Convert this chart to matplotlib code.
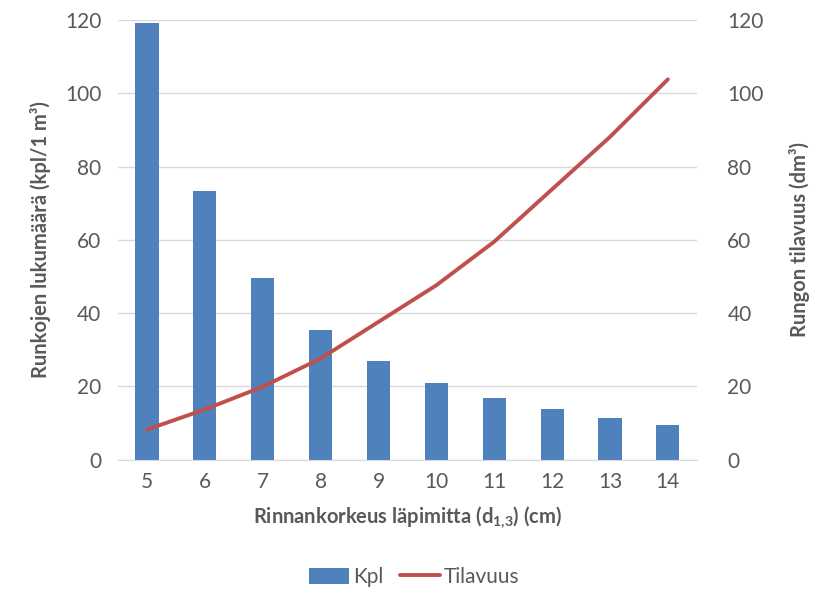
import matplotlib
matplotlib.use("Agg")
import matplotlib.pyplot as plt
from matplotlib.lines import Line2D
from matplotlib.patches import Patch

plt.rcParams['font.family'] = ['Lato', 'DejaVu Sans']
plt.rcParams['mathtext.default'] = 'regular'

# Diameter classes (cm)
diameters = [5, 6, 7, 8, 9, 10, 11, 12, 13, 14]
# Stems per cubic metre
kpl = [119.1, 73.3, 49.7, 35.5, 26.8, 20.9, 16.7, 13.8, 11.3, 9.4]
# Stem volume (dm3)
tilavuus = [8.2, 13.7, 19.9, 27.6, 37.6, 47.6, 59.5, 73.8, 88.1, 103.8]
y_ticks = [0, 20, 40, 60, 80, 100, 120]

BAR_C = '#4F81BD'
LINE_C = '#C0504D'
TXT_C = '#595959'
GRID_C = '#D9D9D9'

fig = plt.figure(figsize=(8.14, 5.90), dpi=100)
ax = fig.add_axes([0.145, 0.221, 0.711, 0.745])
ax2 = ax.twinx()

x = list(range(len(diameters)))
ax.bar(x, kpl, width=0.4, color=BAR_C, zorder=2)
ax2.plot(x, tilavuus, color=LINE_C, lw=2.8, solid_capstyle='round', zorder=3)

for a in (ax, ax2):
    a.set_ylim(0, 120)
    a.set_yticks(y_ticks)
    a.tick_params(axis='y', length=0, labelsize=15, labelcolor=TXT_C)
    for s in a.spines.values():
        s.set_visible(False)
ax.tick_params(axis='y', pad=12)
ax2.tick_params(axis='y', pad=22)

ax.set_xlim(-0.5, len(diameters) - 0.5)
ax.set_xticks(x)
ax.set_xticklabels([str(d) for d in diameters])
ax.tick_params(axis='x', length=0, labelsize=15, labelcolor=TXT_C, pad=9)

ax.yaxis.grid(True, color=GRID_C, lw=1.0, zorder=0)
ax.set_axisbelow(True)
ax.spines['bottom'].set_visible(True)
ax.spines['bottom'].set_color(GRID_C)

ax.set_ylabel('Runkojen lukumäärä (kpl/1 m³)', fontsize=14.5, fontweight='bold',
              color=TXT_C, labelpad=10)
ax2.set_ylabel('Rungon tilavuus (dm³)', fontsize=14.5, fontweight='bold',
               color=TXT_C, labelpad=18)
ax.set_xlabel('Rinnankorkeus läpimitta (d$_{1{,}3}$) (cm)', fontsize=14.5,
              fontweight='bold', color=TXT_C, labelpad=9)

handles = [Patch(facecolor=BAR_C, edgecolor='none'),
           Line2D([0], [0], color=LINE_C, lw=2.8, solid_capstyle='round')]
fig.legend(handles, ['Kpl', 'Tilavuus'], loc='center', bbox_to_anchor=(0.509, 0.022),
           ncol=2, frameon=False, fontsize=15, labelcolor=TXT_C,
           handlelength=1.9, handleheight=0.8, handletextpad=0.2, columnspacing=0.8)

fig.savefig('out.png', dpi=100, facecolor='white')
